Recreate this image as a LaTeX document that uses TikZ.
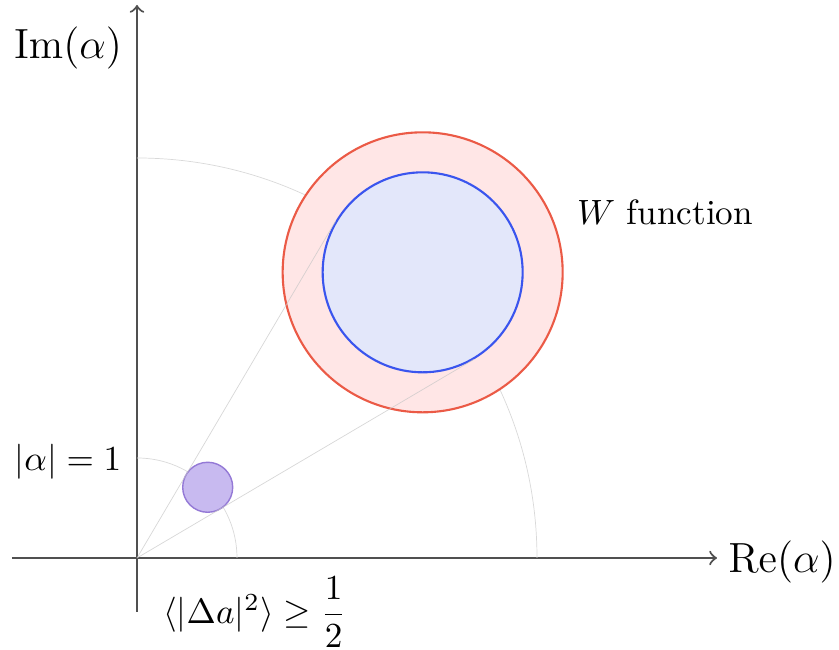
\documentclass[tikz,border=0pt]{standalone}
\usepackage{amsmath}
\usepackage{tikz}
\usetikzlibrary{calc,positioning}
\definecolor{WRedLine}{HTML}{EB5A46}
\definecolor{WRedFill}{HTML}{FFE6E6}
\definecolor{WBlueLine}{HTML}{3A55EE}
\definecolor{WBlueFill}{HTML}{E3E7FA}
\definecolor{VacLine}{HTML}{9479D6}
\definecolor{VacFill}{HTML}{C8BAF0}
\definecolor{AxisGray}{HTML}{505050}

\begin{document}
\begin{tikzpicture}[
    axis/.style={->, semithick, AxisGray},
    guide/.style={gray!30, very thin},
    tangent/.style={gray!45, very thin, opacity=0.7},
    label/.style={inner sep=1pt},
    axislabel/.style={inner sep=1pt, font=\large}
  ]
  \useasboundingbox (-1.37,-0.92) rectangle (7.02,5.58);

  % axes
  \coordinate (O) at (0,0);
  \coordinate (xl) at (-1.25,0);
  \coordinate (xr) at (5.8,0);
  \coordinate (yb) at (0,-0.54);
  \coordinate (yt) at (0,5.53);
  \draw[axis] (xl) -- (xr);
  \draw[axis] (yb) -- (yt);
  \node[axislabel] (re) at (6.45,-0.04) {$\mathrm{Re}(\alpha)$};
  \node[axislabel] (im) at (-0.69,5.10) {$\mathrm{Im}(\alpha)$};

  % constant-amplitude arcs
  \draw[guide] (1,0) arc[start angle=0, end angle=90, radius=1];
  \draw[guide] (4,0) arc[start angle=0, end angle=90, radius=4];

  % coherent states
  \node[circle, draw=WRedLine, fill=WRedFill, semithick, minimum size=2.8cm, inner sep=0pt] (wout) at (45:4.04) {};
  \node[circle, draw=WBlueLine, fill=WBlueFill, semithick, minimum size=2cm, inner sep=0pt] (win) at (45:4.04) {};
  \node[circle, draw=VacLine, fill=VacFill, thin, minimum size=0.5cm, inner sep=0pt] (vac) at (45:1) {};

  % tangents from the origin
  \coordinate (tu) at ({45+asin(0.25)}:{sqrt(15.3)});
  \coordinate (tl) at ({45-asin(0.25)}:{sqrt(15.3)});
  \draw[tangent] (O) -- (tu);
  \draw[tangent] (O) -- (tl);

  % labels
  \node[label] (wlab) at (5.28,3.46) {$W$ function};
  \node[label] (unit) at (-0.69,0.96) {$|\alpha| = 1$};
  \node[label] (unc) at (1.18,-0.54) {$\langle|\Delta a|^2\rangle \geq \dfrac{1}{2}$};
\end{tikzpicture}
\end{document}
